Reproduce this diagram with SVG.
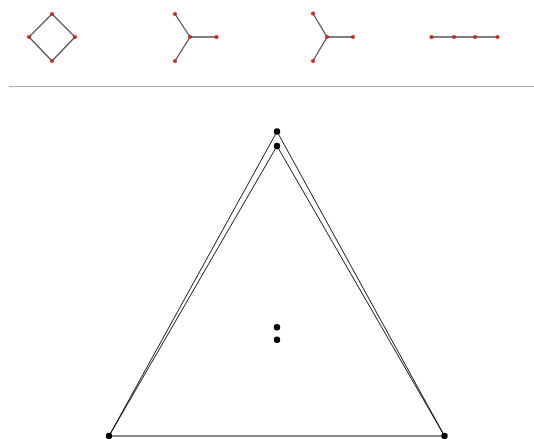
<svg xmlns="http://www.w3.org/2000/svg" width="534" height="439" viewBox="0 0 534 439">
<style>
.e{stroke:#555;stroke-width:1.3;fill:none}
.v{fill:#d42a1e;stroke:#8a1a10;stroke-width:0.4}
.t{stroke:#000;stroke-width:0.9;fill:none}
.d{fill:#000}
</style>
<rect width="534" height="439" fill="#fff"/>
<g id="connectors">
<path class="e" d="M52,14 L75,37 L52,61 L29,37 Z"/>
<path class="e" d="M175,14 L190,37 L175,61 M190,37 L216.5,37"/>
<path class="e" d="M313,13.5 L327,37 L313,61 M327,37 L353,37"/>
<path class="e" d="M431.5,37 L497.5,37"/>
<line x1="9" y1="86.5" x2="534" y2="86.5" stroke="#aaa" stroke-width="1.2"/>
<path class="t" d="M277,131.5 L109,436 L444.5,436 Z"/>
<path class="t" d="M109,436 L277,146 L444.5,436"/>
</g>
<g id="n-diamond">
<circle class="v" cx="52" cy="14" r="1.8"/><circle class="v" cx="75" cy="37" r="1.8"/><circle class="v" cx="52" cy="61" r="1.8"/><circle class="v" cx="29" cy="37" r="1.8"/>
</g>
<g id="n-star1">
<circle class="v" cx="175" cy="14" r="1.8"/><circle class="v" cx="190" cy="37" r="1.8"/><circle class="v" cx="175" cy="61" r="1.8"/><circle class="v" cx="216.5" cy="37" r="1.8"/>
</g>
<g id="n-star2">
<circle class="v" cx="313" cy="13.5" r="1.8"/><circle class="v" cx="327" cy="37" r="1.8"/><circle class="v" cx="313" cy="61" r="1.8"/><circle class="v" cx="353" cy="37" r="1.8"/>
</g>
<g id="n-path">
<circle class="v" cx="431.5" cy="37" r="1.8"/><circle class="v" cx="454" cy="37" r="1.8"/><circle class="v" cx="475" cy="37" r="1.8"/><circle class="v" cx="497.5" cy="37" r="1.8"/>
</g>
<g id="n-top1"><circle class="d" cx="277" cy="131.5" r="3.2"/></g>
<g id="n-top2"><circle class="d" cx="277" cy="146" r="3.2"/></g>
<g id="n-bl"><circle class="d" cx="109" cy="436" r="3.2"/></g>
<g id="n-br"><circle class="d" cx="444.5" cy="436" r="3.2"/></g>
<g id="n-c1"><circle class="d" cx="277" cy="327.3" r="3.2"/></g>
<g id="n-c2"><circle class="d" cx="277" cy="339.8" r="3.2"/></g>
</svg>
